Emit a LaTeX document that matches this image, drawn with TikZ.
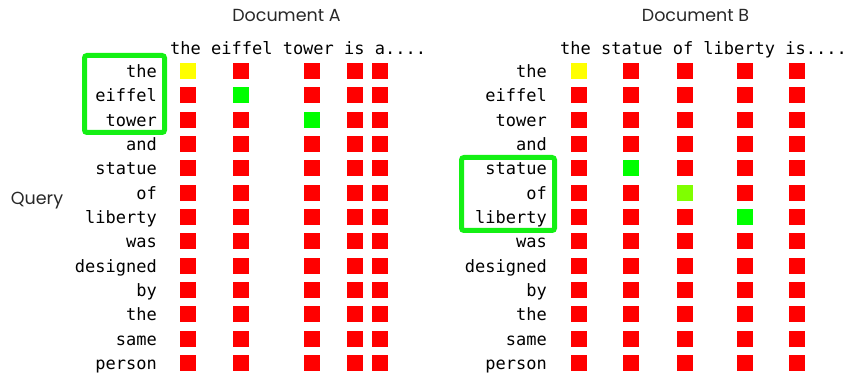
\documentclass[tikz,border=0pt]{standalone}
\usepackage{fontspec}
\setmonofont{DejaVu Sans Mono}
\newfontfamily\titlefont{Poppins}
\definecolor{cred}{RGB}{255,0,0}
\definecolor{cyellow}{RGB}{255,255,0}
\definecolor{cgreen}{RGB}{0,255,0}
\definecolor{clime}{RGB}{127,255,0}
\definecolor{cbox}{RGB}{20,240,20}
\definecolor{ctitle}{RGB}{40,40,40}
\begin{document}
\begin{tikzpicture}[x=1pt,y=-1pt,
  cell/.style={minimum size=16pt, inner sep=0pt, outer sep=0pt},
  mono/.style={inner sep=0pt, font=\fontsize{17}{17}\selectfont\ttfamily},
  qword/.style={mono, anchor=base east},
  hword/.style={mono, anchor=base west},
  title/.style={inner sep=0pt, text=ctitle, font=\fontsize{17.5}{17.5}\selectfont\titlefont},
  gbox/.style={draw=cbox, line width=5pt, rounded corners=2.5pt}]
\useasboundingbox (0,0) rectangle (847,374);
% titles
\node[title] (ta) at (286.5,15) {Document A};
\node[title] (tb) at (695.5,15) {Document B};
\node[title] (ql) at (37,201) {Query};
% headers
\node[hword] (ha) at (170,55) {the eiffel tower is a....};
\node[hword] (hb) at (560,55) {the statue of liberty is....};
% query words
\foreach \w [count=\i from 0] in {the,eiffel,tower,and,statue,of,liberty,was,designed,by,the,same,person}{
  \node[qword] (qa-\i) at ({157},{71+24.33*\i+6.5}) {\w};
  \node[qword] (qb-\i) at ({547},{71+24.33*\i+6.5}) {\w};
}
% Document A cells
\foreach \cx [count=\c from 0] in {188,241,312,355,380}{
  \foreach \i in {0,...,12}{
    \def\col{cred}
    \ifnum\i=\c \ifnum\i<3 \def\col{cgreen}\fi\fi
    \ifnum\i=0 \ifnum\c=0 \def\col{cyellow}\fi\fi
    \node[cell, fill=\col] (ca-\i-\c) at ({\cx},{71+24.33*\i}) {};
  }
}
% Document B cells
\foreach \cx [count=\c from 0] in {579,631,685,745,797}{
  \foreach \i in {0,...,12}{
    \def\col{cred}
    \ifnum\i=0 \ifnum\c=0 \def\col{cyellow}\fi\fi
    \ifnum\i=4 \ifnum\c=1 \def\col{cgreen}\fi\fi
    \ifnum\i=5 \ifnum\c=2 \def\col{clime}\fi\fi
    \ifnum\i=6 \ifnum\c=3 \def\col{cgreen}\fi\fi
    \node[cell, fill=\col] (cb-\i-\c) at ({\cx},{71+24.33*\i}) {};
  }
}
% highlight boxes
\draw[gbox] (84.5,55.5) rectangle (164.5,132.5);
\draw[gbox] (461.5,157.5) rectangle (554.5,230.5);
\end{tikzpicture}
\end{document}
